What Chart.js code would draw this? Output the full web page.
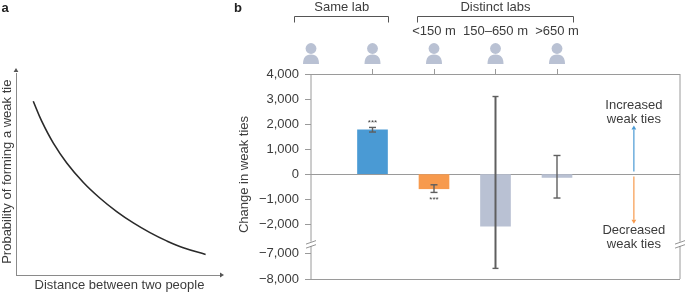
<!DOCTYPE html>
<html>
<head>
<meta charset="utf-8">
<script src="https://cdn.jsdelivr.net/npm/chart.js@4/dist/chart.umd.js"></script>
<style>
  html, body { margin: 0; padding: 0; background: #fff; }
  canvas { position: absolute; top: 0; }
  #panelA { left: 0; }
  #panelB { left: 230px; }
</style>
</head>
<body>
<canvas id="panelA" width="230" height="293"></canvas>
<canvas id="panelB" width="455" height="293"></canvas>
<script>
// panel a curve
const curveX = [8.5, 12.6, 18.4, 25.0, 33.2, 41.4, 49.6, 57.8, 66.0, 74.2, 82.4, 93.4];
const curveY = [86.0, 76.3, 65.3, 55.5, 45.8, 38.0, 31.4, 25.8, 21.0, 16.9, 13.5, 10.2];

// panel b
const categories = ['', 'Same lab', '<150 m', '150–650 m', '>650 m', '', ''];
const tieChange = [null, 1770, -588, -2080, -135, null, null];
const errHigh = [null, 1864, -428, 3100, 743, null, null];
const errLow = [null, 1680, -734, -7580, -958, null, null];
const barColors = ['#b9c1d3', '#4a9ad4', '#f79a4d', '#b9c1d3', '#b9c1d3', '#b9c1d3', '#b9c1d3'];
const yTicks = [4000, 3000, 2000, 1000, 0, -1000, -2000, -7000, -8000];

const FONT = '"Liberation Sans", Arial, sans-serif';
const TEXT = '#3c3c3c';
const AXIS = '#9a9a9a';
const SLATE = '#b9c1d3';
const LABEL_FONT = '13px ' + FONT;

// y axis with a cut between -2,700 and -6,700
const breakValues = [4000, -2700, -6700, -8000];
const breakFracs = [0, 0.8176, 0.8397, 1];

class BrokenScale extends Chart.LinearScale {
    static id = 'broken';
    getPixelForValue(v) {
        let i = 0;
        while (i < breakValues.length - 2 && v < breakValues[i + 1]) i++;
        const t = (breakValues[i] - v) / (breakValues[i] - breakValues[i + 1]);
        const f = breakFracs[i] + t * (breakFracs[i + 1] - breakFracs[i]);
        return this.top + f * (this.bottom - this.top);
    }
}
Chart.register(BrokenScale);

function text(ctx, str, x, y, font, align, color) {
    ctx.save();
    ctx.font = font;
    ctx.fillStyle = color || TEXT;
    ctx.textAlign = align || 'center';
    ctx.textBaseline = 'middle';
    ctx.fillText(str, x, y);
    ctx.restore();
}

function verticalText(ctx, str, x, y) {
    ctx.save();
    ctx.translate(x, y);
    ctx.rotate(-Math.PI / 2);
    text(ctx, str, 0, 0, LABEL_FONT);
    ctx.restore();
}

function line(ctx, x1, y1, x2, y2, color, width) {
    ctx.strokeStyle = color;
    ctx.lineWidth = width;
    ctx.beginPath();
    ctx.moveTo(x1, y1);
    ctx.lineTo(x2, y2);
    ctx.stroke();
}

function arrowHead(ctx, x, y, dx, dy, color) {
    ctx.fillStyle = color;
    ctx.beginPath();
    ctx.moveTo(x + dx * 4, y + dy * 4);
    ctx.lineTo(x - dy * 2.4, y - dx * 2.4);
    ctx.lineTo(x + dy * 2.4, y + dx * 2.4);
    ctx.closePath();
    ctx.fill();
}

const panelADecor = {
    id: 'panelADecor',
    afterDraw(chart) {
        const { ctx, chartArea: a } = chart;
        ctx.save();
        text(ctx, 'a', 5, 8, 'bold 13px ' + FONT, 'center', '#222');
        arrowHead(ctx, a.left, a.top - 1, 0, -1, '#555');
        arrowHead(ctx, a.right + 1, a.bottom, 1, 0, '#555');
        text(ctx, 'Distance between two people', 119.5, 285.5, LABEL_FONT);
        verticalText(ctx, 'Probability of forming a weak tie', 7, 171.7);
        ctx.restore();
    }
};

new Chart(document.getElementById('panelA'), {
    type: 'scatter',
    data: {
        datasets: [{
            data: curveX.map((x, i) => ({ x, y: curveY[i] })),
            showLine: true,
            borderColor: '#2a2a2a',
            borderWidth: 1.6,
            pointRadius: 0,
            tension: 0.4
        }]
    },
    options: {
        responsive: false,
        animation: false,
        events: [],
        layout: { padding: { top: 73, right: 11, bottom: 0, left: 0 } },
        plugins: { legend: { display: false }, tooltip: { enabled: false } },
        scales: {
            x: {
                min: 0, max: 100,
                grid: { display: false },
                border: { color: '#8a8a8a', width: 1 },
                ticks: { display: false },
                afterFit(s) { s.height = 18; }
            },
            y: {
                min: 0, max: 100,
                grid: { display: false },
                border: { color: '#8a8a8a', width: 1 },
                ticks: { display: false },
                afterFit(s) { s.width = 16; }
            }
        }
    },
    plugins: [panelADecor]
});

// person icon above each position
function person(ctx, x, color) {
    ctx.fillStyle = color;
    ctx.beginPath();
    ctx.arc(x, 48.5, 5.4, 0, Math.PI * 2);
    ctx.fill();
    ctx.beginPath();
    ctx.moveTo(x - 8, 64);
    ctx.bezierCurveTo(x - 8, 58.5, x - 6, 54.5, x, 54.5);
    ctx.bezierCurveTo(x + 6, 54.5, x + 8, 58.5, x + 8, 64);
    ctx.closePath();
    ctx.fill();
}

function bracket(ctx, x1, x2, y) {
    ctx.strokeStyle = '#555';
    ctx.lineWidth = 1;
    ctx.beginPath();
    ctx.moveTo(x1, y + 6);
    ctx.lineTo(x1, y);
    ctx.lineTo(x2, y);
    ctx.lineTo(x2, y + 6);
    ctx.stroke();
}

const errorBars = {
    id: 'errorBars',
    afterDatasetsDraw(chart) {
        const { ctx, scales: { x, y } } = chart;
        ctx.save();
        categories.forEach((c, i) => {
            if (errHigh[i] === null) return;
            const px = x.getPixelForValue(i);
            const big = errHigh[i] - errLow[i] > 5000;
            const hi = y.getPixelForValue(errHigh[i]);
            const lo = y.getPixelForValue(errLow[i]);
            const w = big ? 2 : 1.4;
            const cap = big ? 3 : 3.5;
            line(ctx, px, hi, px, lo, '#5f5f5f', w);
            line(ctx, px - cap, hi, px + cap, hi, '#5f5f5f', 1.4);
            line(ctx, px - cap, lo, px + cap, lo, '#5f5f5f', 1.4);
        });
        ctx.restore();
    }
};

const panelBDecor = {
    id: 'panelBDecor',
    afterDraw(chart) {
        const { ctx, chartArea: a, scales: { x, y } } = chart;
        const gapTop = y.getPixelForValue(-2700);
        const gapBottom = y.getPixelForValue(-6700);
        ctx.save();
        text(ctx, 'b', 8, 8, 'bold 13px ' + FONT, 'center', '#222');
        verticalText(ctx, 'Change in weak ties', 14, 174.5);

        // side lines, cut at the axis break, with the two slashes
        [a.left, a.right].forEach(px => {
            line(ctx, px, a.top, px, gapTop, AXIS, 1);
            line(ctx, px, gapBottom, px, a.bottom, AXIS, 1);
            line(ctx, px - 5, gapTop + 2.5, px + 5, gapTop - 1, '#777', 0.8);
            line(ctx, px - 5, gapBottom + 2, px + 5, gapBottom - 1.5, '#777', 0.8);
        });

        // group labels
        text(ctx, 'Same lab', x.getPixelForValue(0.5), 7, LABEL_FONT);
        text(ctx, 'Distinct labs', x.getPixelForValue(3), 7, LABEL_FONT);
        bracket(ctx, 64.5, 158.5, 16.5);
        bracket(ctx, 187.5, 343.5, 16.5);
        [2, 3, 4].forEach(i => text(ctx, categories[i], x.getPixelForValue(i), 31.5, LABEL_FONT));
        [0, 1, 2, 3, 4].forEach(i => person(ctx, x.getPixelForValue(i), SLATE));

        // significance stars
        const stars = '8px ' + FONT;
        text(ctx, '***', x.getPixelForValue(1), y.getPixelForValue(errHigh[1]) - 5, stars);
        text(ctx, '***', x.getPixelForValue(2), y.getPixelForValue(errLow[2]) + 7, stars);

        // direction arrows and their notes
        const ax = x.getPixelForValue(5.25);
        line(ctx, ax, y.getPixelForValue(100), ax, y.getPixelForValue(1780), '#4a9ad4', 1.2);
        arrowHead(ctx, ax, y.getPixelForValue(1780), 0, -1, '#4a9ad4');
        line(ctx, ax, y.getPixelForValue(-100), ax, y.getPixelForValue(-1830), '#f79a4d', 1.2);
        arrowHead(ctx, ax, y.getPixelForValue(-1830), 0, 1, '#f79a4d');
        text(ctx, 'Increased', ax, 105, LABEL_FONT);
        text(ctx, 'weak ties', ax, 119, LABEL_FONT);
        text(ctx, 'Decreased', ax, 230, LABEL_FONT);
        text(ctx, 'weak ties', ax, 244, LABEL_FONT);
        ctx.restore();
    }
};

new Chart(document.getElementById('panelB'), {
    type: 'bar',
    data: {
        labels: categories,
        datasets: [{
            data: tieChange,
            backgroundColor: barColors,
            barThickness: 30
        }]
    },
    options: {
        responsive: false,
        animation: false,
        events: [],
        layout: { padding: { top: 69, right: 5, bottom: 14, left: 0 } },
        plugins: { legend: { display: false }, tooltip: { enabled: false } },
        scales: {
            x: {
                position: 'top',
                offset: false,
                border: { display: false },
                grid: {
                    offset: false,
                    drawOnChartArea: false,
                    tickLength: 5,
                    tickWidth: 1,
                    tickColor: c => (c.index >= 1 && c.index <= 4 ? AXIS : 'transparent')
                },
                ticks: { display: false, autoSkip: false },
                afterFit(s) { s.height = 5; }
            },
            y: {
                type: 'broken',
                min: -8000,
                max: 4000,
                border: { display: false },
                grid: {
                    color: c => ([4000, 0, -8000].includes(c.tick.value) ? AXIS : 'transparent'),
                    tickColor: AXIS,
                    tickLength: 6
                },
                afterBuildTicks(s) { s.ticks = yTicks.map(value => ({ value })); },
                ticks: {
                    color: TEXT,
                    padding: 6,
                    font: { family: FONT, size: 13 },
                    callback: v => (v < 0 ? '−' : '') + Math.abs(v).toLocaleString('en-US')
                },
                afterFit(s) { s.width = 81; }
            }
        }
    },
    plugins: [errorBars, panelBDecor]
});
</script>
</body>
</html>
